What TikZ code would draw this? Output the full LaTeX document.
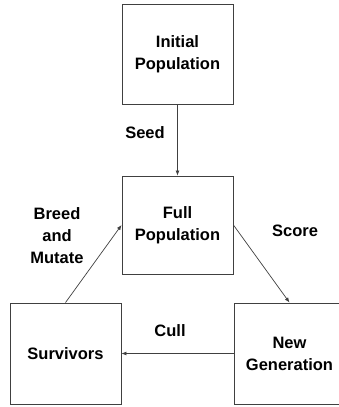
\documentclass[tikz,border=0pt]{standalone}
\usepackage{fontspec}
\setmainfont{Liberation Sans}
\usetikzlibrary{arrows.meta}
\begin{document}
\begin{tikzpicture}[x=1pt,y=-1pt,
  box/.style={draw=black!75,line width=0.9pt,minimum width=111pt,minimum height=100pt,inner sep=0pt,align=center,
    font=\fontsize{16.5}{22}\selectfont\bfseries},
  lbl/.style={align=center,font=\fontsize{16.5}{22}\selectfont\bfseries,inner sep=0pt},
  conn/.style={draw=black!75,line width=0.7pt,-{Latex[length=5pt,width=4pt]}}]
\clip (0,0) rectangle (339,407);
\useasboundingbox (0,0) rectangle (339,407);
\node[box] (init) at (177.5,54) {Initial\\Population};
\node[box,minimum height=98pt] (full) at (177.5,225) {Full\\Population};
\node[box,minimum height=101pt] (surv) at (65.5,353.5) {Survivors};
\node[box,minimum height=101pt] (newg) at (289.5,353.5) {New\\Generation};
\draw[conn] (init.south) -- (full.north);
\draw[conn] (surv.north) -- (full.west);
\draw[conn] (full.east) -- (newg.north);
\draw[conn] (newg.west) -- (surv.east);
\node[lbl] (seed) at (145,133) {Seed};
\node[lbl] (breed) at (57,236) {Breed\\and\\Mutate};
\node[lbl] (score) at (295,231) {Score};
\node[lbl] (cull) at (170,331) {Cull};
\end{tikzpicture}
\end{document}
